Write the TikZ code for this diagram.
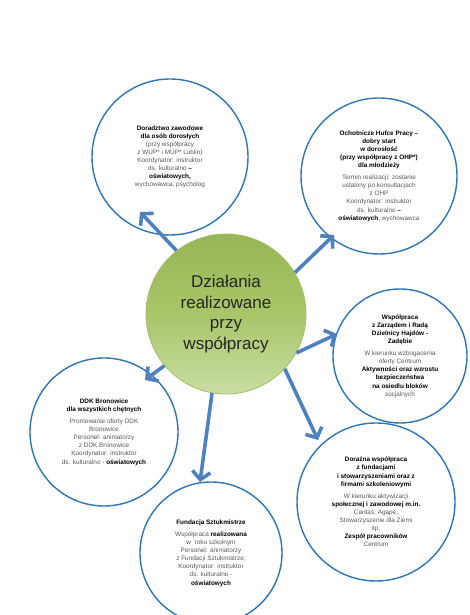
\documentclass[tikz,border=0pt]{standalone}
\usepackage{fontspec}
\setmainfont{Liberation Sans}
\usetikzlibrary{arrows.meta}
\definecolor{cblue}{RGB}{46,117,182}
\definecolor{ablue}{RGB}{79,129,189}
\definecolor{gtxt}{RGB}{89,89,89}
\definecolor{gtop}{RGB}{152,182,86}
\definecolor{gmid}{RGB}{168,197,104}
\definecolor{gbot}{RGB}{202,222,164}
\definecolor{gedge}{RGB}{160,190,100}
\newcommand\ttl[1]{\textbf{\color{black}#1}}
\newcommand\bd[1]{\textbf{\color{black}#1}}
\begin{document}
\begin{tikzpicture}[x=1pt,y=1pt,
  bubble/.style={circle,draw=cblue,line width=1.4pt,fill=white,inner sep=0pt,
    align=center,font=\fontsize{6.4}{8.1}\selectfont,text=gtxt},
  hub/.style={circle,draw=gedge,line width=0.8pt,inner sep=0pt,minimum size=160pt,
    top color=gtop,bottom color=gbot,middle color=gmid,align=center,
    font=\fontsize{17}{20.5}\selectfont,text={black!85}},
  arr/.style={draw=ablue,line width=3.6pt,-{Straight Barb[length=8pt,width=18pt]}},
]
\useasboundingbox (0,0) rectangle (469,615);

\node[bubble,minimum size=156pt] (c1) at (170,458) {%
\ttl{Doradztwo zawodowe}\\
\ttl{dla osób dorosłych}\\
(przy współpracy\\
z WUP* i MUP* Lublin)\\
Koordynator: instruktor\\
ds. kulturalno \bd{–}\\
\bd{oświatowych,}\\
wychowawca, psycholog};

\node[bubble,minimum size=156pt] (c2) at (379,439) {%
\ttl{Ochotnicze Hufce Pracy –}\\
\ttl{dobry start}\\
\ttl{w dorosłość}\\
\ttl{(przy współpracy z OHP*)}\\
\ttl{dla młodzieży}\\[4pt]
Termin realizacji: zostanie\\
ustalony po konsultacjach\\
z OHP\\
Koordynator: instruktor\\
ds. kulturalno \bd{–}\\
\bd{oświatowych}, wychowawca};

\node[bubble,minimum size=134pt] (c3) at (400,259) {%
\ttl{Współpraca}\\
\ttl{z Zarządem i Radą}\\
\ttl{Dzielnicy Hajdów -}\\
\ttl{Zadębie}\\[4pt]
W kierunku wzbogacenia\\
oferty Centrum\\
\bd{Aktywności oraz wzrostu}\\
\bd{bezpieczeństwa}\\
\bd{na osiedlu bloków}\\
socjalnych};

\node[bubble,minimum size=148pt] (c4) at (104,183) {%
\ttl{DDK Bronowice}\\
\ttl{dla wszystkich chętnych}\\[4pt]
Promowanie oferty DDK\\
Bronowice\\
Personel: animatorzy\\
z DDK Bronowice\\
Koordynator: instruktor\\
ds. kulturalno - \bd{oświatowych}};

\node[bubble,minimum size=158pt] (c5) at (376,113) {%
\ttl{Doraźna współpraca}\\
\ttl{z fundacjami}\\
\ttl{i stowarzyszeniami oraz z}\\
\ttl{firmami szkoleniowymi}\\[4pt]
W kierunku aktywizacji\\
\bd{społecznej i zawodowej m.in.}\\
Caritas, Agape,\\
Stowarzyszenie dla Ziemi\\
itp.\\
\bd{Zespół pracowników}\\
Centrum};

\node[bubble,minimum size=142pt] (c6) at (211,62) {%
\ttl{Fundacja Sztukmistrze}\\[4pt]
Współpraca \bd{realizowana}\\
w\ \ roku szkolnym\\
Personel: animatorzy\\
z Fundacji Sztukmistrze,\\
Koordynator: instruktor\\
ds. kulturalno -\\
\bd{oświatowych}};

\node[hub] (c) at (226,301) {Działania\\realizowane\\przy\\współpracy};

\coordinate (t1) at (140,403);
\coordinate (t2) at (334,380);
\coordinate (t3) at (337,281);
\coordinate (t4) at (145,235);
\coordinate (t5) at (200,133);
\coordinate (t6) at (318,175);

\draw[arr] (c.128) -- (t1);
\draw[arr] (c.31) -- (t2);
\draw[arr] (c.-29) -- (t3);
\draw[arr] (c.220) -- (t4);
\draw[arr] (c.260) -- (t5);
\draw[arr] (c.-43) -- (t6);
\end{tikzpicture}
\end{document}
